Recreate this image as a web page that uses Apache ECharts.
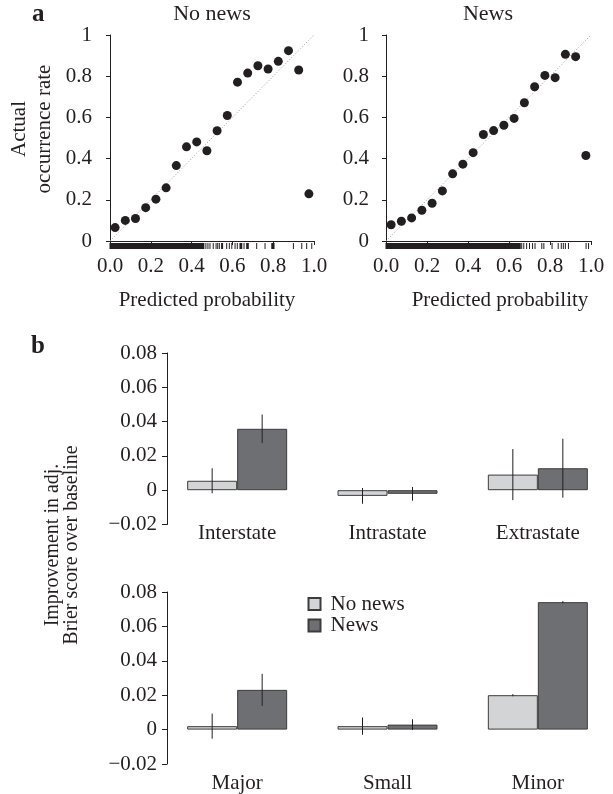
<!DOCTYPE html>
<html>
<head>
<meta charset="utf-8">
<script src="https://cdn.jsdelivr.net/npm/echarts@6/dist/echarts.min.js"></script>
<style>
  html, body { margin: 0; padding: 0; background: #fff; }
  #chart { width: 613px; height: 794px; }
</style>
</head>
<body>
<div id="chart"></div>
<script>
// panel a: calibration, bin midpoints and observed rates
const binMids = [0.025, 0.075, 0.125, 0.175, 0.225, 0.275, 0.325, 0.375, 0.425, 0.475,
  0.525, 0.575, 0.625, 0.675, 0.725, 0.775, 0.825, 0.875, 0.925, 0.975]
const noNewsRate = [0.065, 0.10, 0.109, 0.162, 0.203, 0.258, 0.366, 0.457, 0.481, 0.438,
  0.535, 0.609, 0.771, 0.815, 0.851, 0.835, 0.872, 0.924, 0.830, 0.229]
const newsRate = [0.079, 0.096, 0.112, 0.149, 0.183, 0.243, 0.326, 0.373, 0.429, 0.517,
  0.536, 0.562, 0.595, 0.671, 0.749, 0.804, 0.793, 0.906, 0.895, 0.415]
const noNewsRateErr = [0, 0, 0, 0, 0, 0, 0, 0, 0, 0, 0, 0, 0, 0, 0, 0, 0, 0, 0, 0.02]
const newsRateErr = [0, 0, 0, 0, 0, 0, 0, 0, 0, 0, 0, 0, 0, 0, 0, 0, 0, 0, 0, 0.01]
const diag = [0, 1]

// rug of predicted probabilities: [from, to] runs of ticks
const noNewsRug = [[0, 0.46], [0.47, 0.47], [0.48, 0.48], [0.49, 0.49], [0.506, 0.506],
  [0.52, 0.52], [0.528, 0.528], [0.536, 0.536], [0.547, 0.552], [0.572, 0.572],
  [0.585, 0.585], [0.597, 0.597], [0.613, 0.613], [0.624, 0.624], [0.637, 0.646],
  [0.657, 0.657], [0.67, 0.678], [0.719, 0.719], [0.76, 0.76], [0.793, 0.804],
  [0.899, 0.899], [0.94, 0.94], [0.964, 0.964], [0.989, 0.989]]
const newsRug = [[0, 0.655], [0.662, 0.662], [0.672, 0.672], [0.686, 0.686], [0.70, 0.70],
  [0.715, 0.715], [0.727, 0.727], [0.76, 0.76], [0.77, 0.77], [0.81, 0.81],
  [0.84, 0.84], [0.855, 0.855], [0.865, 0.865], [0.875, 0.875], [0.89, 0.89],
  [0.976, 0.976], [0.988, 0.988]]

const probTicks = ['0.0', '0.2', '0.4', '0.6', '0.8', '1.0']
const rateTicks = ['0', '0.2', '0.4', '0.6', '0.8', '1']

// panel b: improvement in adjusted Brier score
const conflictTypes = ['Interstate', 'Intrastate', 'Extrastate']
const conflictNoNews = [0.0055, -0.0033, 0.0091]
const conflictNews = [0.0358, -0.0021, 0.0128]
const conflictNoNewsErr = [0.0073, 0.0046, 0.0149]
const conflictNewsErr = [0.0083, 0.0040, 0.0172]
const sizeTypes = ['Major', 'Small', 'Minor']
const sizeNoNews = [0.0020, 0.0020, 0.0200]
const sizeNews = [0.0231, 0.0029, 0.0741]
const sizeNoNewsErr = [0.0073, 0.0050, 0.0006]
const sizeNewsErr = [0.0093, 0.0031, 0.0006]
const brierTicks = ['\u22120.02', '0', '0.02', '0.04', '0.06', '0.08']

const serif = 'Liberation Serif'
const ink = '#231f20'
const lightBar = '#d3d4d6'
const darkBar = '#6e6f72'
const barW = 50

const chart = echarts.init(document.getElementById('chart'))

function rugItem(params, api) {
  const a = api.coord([api.value(0), 0])
  const b = api.coord([api.value(1), 0])
  return {
    type: 'rect',
    shape: { x: a[0] - 0.5, y: a[1] + 2, width: Math.max(b[0] - a[0], 0) + 1, height: 6 },
    style: { fill: ink }
  }
}

function dotErrItem(params, api) {
  const x = api.value(0), y = api.value(1), e = api.value(2)
  const hi = api.coord([x, y + e])
  const lo = api.coord([x, y - e])
  return {
    type: 'line',
    shape: { x1: hi[0], y1: hi[1], x2: lo[0], y2: lo[1] },
    style: { stroke: ink, lineWidth: 1.2 }
  }
}

function barErr(shift) {
  return function(params, api) {
    const i = api.value(0), y = api.value(1), e = api.value(2)
    const hi = api.coord([i, y + e])
    const lo = api.coord([i, y - e])
    return {
      type: 'line',
      shape: { x1: hi[0] + shift, y1: hi[1], x2: lo[0] + shift, y2: lo[1] },
      style: { stroke: ink, lineWidth: 1 }
    }
  }
}

const labelFont = { fontFamily: serif, fontSize: 21, color: ink }

function probAxis(grid) {
  return {
    type: 'value', gridIndex: grid, min: 0, max: 1, interval: 0.2, offset: 8,
    axisLine: { lineStyle: { color: ink, width: 1 } },
    axisTick: { length: 4, lineStyle: { color: ink } },
    splitLine: { show: false },
    axisLabel: Object.assign({ margin: 7, formatter: v => probTicks[Math.round(v * 5)] }, labelFont)
  }
}

function rateAxis(grid, off) {
  return {
    type: 'value', gridIndex: grid, min: 0, max: 1, interval: 0.2, offset: off,
    axisLine: { show: true, lineStyle: { color: ink, width: 1 } },
    axisTick: { show: true, length: 4, lineStyle: { color: ink } },
    splitLine: { show: false },
    axisLabel: Object.assign({ margin: 8, formatter: v => rateTicks[Math.round(v * 5)] }, labelFont)
  }
}

function catAxis(grid, cats, off) {
  return {
    type: 'category', gridIndex: grid, data: cats, offset: off,
    axisLine: { show: false }, axisTick: { show: false },
    axisLabel: Object.assign({ margin: 0 }, labelFont)
  }
}

function brierAxis(grid) {
  return {
    type: 'value', gridIndex: grid, min: -0.02, max: 0.08, interval: 0.02, offset: -5,
    axisLine: { show: true, lineStyle: { color: ink, width: 1 } },
    axisTick: { show: true, length: 5, lineStyle: { color: ink } },
    splitLine: { show: false },
    axisLabel: Object.assign({ margin: 10, formatter: v => brierTicks[Math.round((v + 0.02) / 0.02)] }, labelFont)
  }
}

function calibSeries(ax, rates, errs, rug) {
  return [
    {
      type: 'line', xAxisIndex: ax, yAxisIndex: ax, data: diag.map(d => [d, d]),
      symbol: 'none', silent: true, z: 1,
      lineStyle: { color: '#9a9a9a', width: 1, type: [1, 2] }
    },
    {
      type: 'custom', xAxisIndex: ax, yAxisIndex: ax, renderItem: rugItem, clip: false,
      data: rug, z: 2
    },
    {
      type: 'custom', xAxisIndex: ax, yAxisIndex: ax, renderItem: dotErrItem,
      data: binMids.map((x, i) => [x, rates[i], errs[i]]), z: 3
    },
    {
      type: 'scatter', xAxisIndex: ax, yAxisIndex: ax, symbolSize: 9,
      itemStyle: { color: ink, opacity: 1 }, data: binMids.map((x, i) => [x, rates[i]]), z: 4
    }
  ]
}

function barSeries(ax, noNews, news, noNewsErr, newsErr) {
  const bar = (name, data, color) => ({
    type: 'bar', name, xAxisIndex: ax, yAxisIndex: ax, data,
    barWidth: barW, barGap: '0%',
    itemStyle: { color, borderColor: '#3c3c3c', borderWidth: 1 }
  })
  return [
    bar('No news', noNews, lightBar),
    bar('News', news, darkBar),
    {
      type: 'custom', xAxisIndex: ax, yAxisIndex: ax, renderItem: barErr(-barW / 2), z: 5,
      data: noNews.map((v, i) => [i, v, noNewsErr[i]])
    },
    {
      type: 'custom', xAxisIndex: ax, yAxisIndex: ax, renderItem: barErr(barW / 2), z: 5,
      data: news.map((v, i) => [i, v, newsErr[i]])
    }
  ]
}

function label(text, x, y, size) {
  return {
    type: 'text', x, y,
    style: {
      text, fill: ink, fontFamily: serif, fontSize: size || 21,
      align: 'center', verticalAlign: 'middle'
    }
  }
}

const vertName = (text, x, y, size, lh) => ({
  type: 'text', x, y, rotation: Math.PI / 2,
  style: {
    text, fill: ink, fontFamily: serif, fontSize: size, lineHeight: lh,
    align: 'center', verticalAlign: 'middle'
  }
})

chart.setOption({
  animation: false,
  grid: [
    { left: 110, top: 35, width: 204, height: 206 },
    { left: 386, top: 35, width: 205, height: 206 },
    { left: 162, top: 353, width: 453, height: 171.5 },
    { left: 162, top: 592, width: 453, height: 172 }
  ],
  xAxis: [
    probAxis(0),
    probAxis(1),
    catAxis(2, conflictTypes, -2),
    catAxis(3, sizeTypes, 9)
  ],
  yAxis: [
    rateAxis(0, 10),
    rateAxis(1, 9),
    brierAxis(2),
    brierAxis(3)
  ],
  legend: {
    data: ['No news', 'News'], orient: 'vertical', left: 302.5, top: 588.5,
    icon: 'rect', itemWidth: 12, itemHeight: 12, itemGap: 0.6,
    textStyle: { fontFamily: serif, fontSize: 21, color: ink, lineHeight: 21, padding: [0, 0, 0, 5] }
  },
  graphic: [
    { type: 'text', x: 32, y: 15, style: { text: 'a', fill: ink, fontFamily: serif, fontSize: 25, fontWeight: 'bold', verticalAlign: 'middle' } },
    { type: 'text', x: 31, y: 347, style: { text: 'b', fill: ink, fontFamily: serif, fontSize: 25, fontWeight: 'bold', verticalAlign: 'middle' } },
    label('No news', 212, 14, 22),
    label('News', 488, 14, 22),
    label('Predicted probability', 207, 300),
    label('Predicted probability', 500, 300),
    vertName('Actual\noccurrence rate', 32, 129, 21, 25),
    vertName('Improvement in adj.\nBrier score over baseline', 62, 545, 20, 19)
  ],
  series: [].concat(
    calibSeries(0, noNewsRate, noNewsRateErr, noNewsRug),
    calibSeries(1, newsRate, newsRateErr, newsRug),
    barSeries(2, conflictNoNews, conflictNews, conflictNoNewsErr, conflictNewsErr),
    barSeries(3, sizeNoNews, sizeNews, sizeNoNewsErr, sizeNewsErr)
  )
})
</script>
</body>
</html>
